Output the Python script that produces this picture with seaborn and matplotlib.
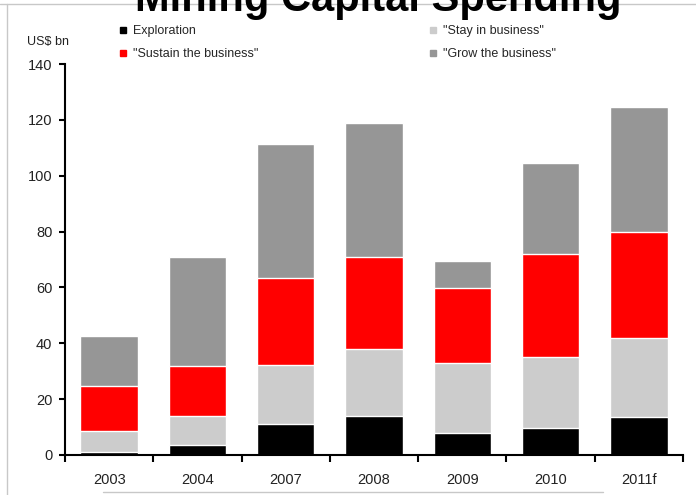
import numpy as np
import pandas as pd
import matplotlib
matplotlib.use('Agg')
import matplotlib.pyplot as plt
import seaborn as sns
from matplotlib.lines import Line2D

years = ['2003', '2004', '2007', '2008', '2009', '2010', '2011f']
exploration = [1.2, 3.7, 11.0, 14.0, 7.8, 9.7, 13.7]
stay_in_business = [7.5, 10.3, 21.2, 24.0, 25.0, 25.3, 28.3]
sustain_business = [16.0, 18.0, 31.0, 33.0, 27.0, 37.0, 38.0]
grow_business = [18.0, 39.0, 48.0, 48.0, 9.7, 32.5, 44.6]

series_names = ['Exploration', '"Stay in business"', '"Sustain the business"', '"Grow the business"']
series_colors = ['#000000', '#cccccc', '#ff0000', '#969696']

sns.set_style('white')
plt.rcParams['font.family'] = ['Liberation Sans', 'DejaVu Sans']

df = pd.DataFrame({'year': years,
                   'Exploration': exploration,
                   '"Stay in business"': stay_in_business,
                   '"Sustain the business"': sustain_business,
                   '"Grow the business"': grow_business})

# cumulative tops so the bars can be drawn back to front
cum = df[series_names].cumsum(axis=1)

fig = plt.figure(figsize=(6.96, 4.95), dpi=100)
ax = fig.add_axes([65 / 696, 1 - 455 / 495, (683 - 65) / 696, (455 - 64) / 495])

for name, color in reversed(list(zip(series_names, series_colors))):
    sns.barplot(x=df['year'], y=cum[name], order=years, color=color, width=0.65,
                edgecolor='white', linewidth=1.0, saturation=1, ax=ax)

ax.set_xlim(-0.5, 6.5)
ax.set_ylim(0, 140)
ax.set_yticks(np.arange(0, 141, 20))
ax.set_xlabel('')
ax.set_ylabel('')
ax.set_xticks(range(len(years)))
ax.set_xticklabels(years)
ax.set_xticks(np.arange(-0.5, 7, 1), minor=True)
ax.tick_params(axis='x', which='major', length=0, pad=13, labelsize=10.5, colors='#222222')
ax.tick_params(axis='x', which='minor', length=5, width=1.5, direction='out', color='black')
ax.tick_params(axis='y', length=4, width=1.5, direction='out', color='black', pad=5,
               labelsize=10.5, labelcolor='#222222')
ax.tick_params(axis='both', bottom=True, left=True)
ax.xaxis.set_tick_params(which='minor', bottom=True)
for side in ['top', 'right']:
    ax.spines[side].set_visible(False)
for side in ['left', 'bottom']:
    ax.spines[side].set_color('black')
    ax.spines[side].set_linewidth(1.5)

handles = [Line2D([], [], marker='s', linestyle='none', markersize=4.5, color=c) for c in series_colors]
order = [0, 2, 1, 3]
fig.legend([handles[i] for i in order], [series_names[i] for i in order],
           ncol=2, loc='upper left', bbox_to_anchor=(118 / 696, 1 - 25 / 495),
           frameon=False, fontsize=9, handlelength=0.8, handletextpad=0.4,
           columnspacing=13.6, labelspacing=0.9, borderaxespad=0, borderpad=0)

fig.text(27 / 696, 1 - 42 / 495, 'US$ bn', fontsize=9, va='center', ha='left', color='#222222')

# thin frame lines from the original slide
fig.add_artist(Line2D([0, 1], [1 - 4 / 495] * 2, color='#c8c8c8', lw=1))
fig.add_artist(Line2D([7 / 696] * 2, [0, 1 - 4 / 495], color='#c8c8c8', lw=1))
fig.add_artist(Line2D([103 / 696, 603 / 696], [1 - 492 / 495] * 2, color='#c8c8c8', lw=1))

# title sits partly above the top edge, as in the source slide
fig.text(378 / 696, 1 - 11 / 495, 'Mining Capital Spending', ha='center', va='baseline',
         fontsize=30, fontweight='bold', color='black')

fig.savefig('out.png', dpi=100)
